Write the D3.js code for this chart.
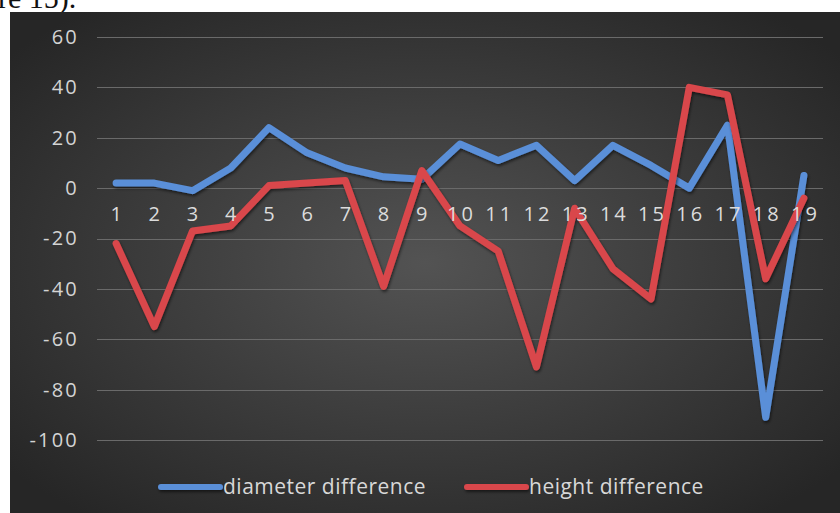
<!DOCTYPE html>
<html>
<head>
<meta charset="utf-8">
<script src="https://cdn.jsdelivr.net/npm/d3@7"></script>
<style>
  html, body { margin: 0; padding: 0; background: #fff; }
  svg { display: block; }
</style>
</head>
<body>
<svg id="chart" width="840" height="513"></svg>
<script>
// Sample numbers along the x axis
const categories = ["1","2","3","4","5","6","7","8","9","10","11","12","13","14","15","16","17","18","19"];
// Differences per sample
const diameterDiff = [2, 2, -1, 8, 24, 14, 8, 4.5, 3.5, 17.5, 11, 17, 3, 17, 9, 0, 25, -91, 5];
const heightDiff = [-22, -55, -17, -15, 1, 2, 3, -39, 7, -15, -25, -71, -8, -32, -44, 40, 37, -36, -4];
const yTicks = [60, 40, 20, 0, -20, -40, -60, -80, -100];
const seriesNames = ["diameter difference", "height difference"];
const seriesColors = ["#5a8fd8", "#d9474b"];

const svg = d3.select("#chart");
const W = 840, H = 513;

// Caption fragment above the chart panel
svg.append("text")
  .attr("x", -2).attr("y", 8)
  .attr("font-family", "Liberation Serif, Times New Roman, serif")
  .attr("font-size", 30)
  .attr("fill", "#111")
  .text("re 15).");

// Chart panel with a radial gradient background
const defs = svg.append("defs");
const grad = defs.append("radialGradient")
  .attr("id", "bg").attr("cx", "50%").attr("cy", "50%").attr("r", "65%");
grad.append("stop").attr("offset", "0%").attr("stop-color", "#535353");
grad.append("stop").attr("offset", "100%").attr("stop-color", "#262626");

const shadow = defs.append("filter").attr("id", "shadow")
  .attr("filterUnits", "userSpaceOnUse")
  .attr("x", 0).attr("y", 0).attr("width", W).attr("height", H);
shadow.append("feDropShadow").attr("dx", 1).attr("dy", 2).attr("stdDeviation", 1.5)
  .attr("flood-color", "#000").attr("flood-opacity", 0.55);

const panel = { x: 10, y: 12, w: W - 10, h: H - 12 };
svg.append("rect")
  .attr("x", panel.x).attr("y", panel.y)
  .attr("width", panel.w).attr("height", panel.h)
  .attr("fill", "url(#bg)");

const plot = { left: 97, right: 823, top: 37, bottom: 440 };

const x = d3.scaleBand().domain(categories).range([plot.left, plot.right]);
const y = d3.scaleLinear().domain([-100, 60]).range([plot.bottom, plot.top]);

// Horizontal gridlines
svg.append("g")
  .selectAll("line").data(yTicks).join("line")
  .attr("x1", plot.left).attr("x2", plot.right)
  .attr("y1", d => Math.round(y(d)) + 0.5).attr("y2", d => Math.round(y(d)) + 0.5)
  .attr("stroke", "#6a6a6a").attr("stroke-width", 1);

// Y axis labels (plain hyphen for negatives)
const yAxis = d3.axisLeft(y).tickValues(yTicks).tickSize(0).tickPadding(0)
  .tickFormat(d => String(d));
const yg = svg.append("g").attr("transform", `translate(${plot.left - 18},0)`).call(yAxis);
yg.select(".domain").remove();
yg.selectAll("text")
  .attr("font-family", "Open Sans, sans-serif")
  .attr("font-size", 20)
  .attr("letter-spacing", "2.2px")
  .attr("fill", "#d4d4d4");

// Series lines
const line = d3.line()
  .x((d, i) => x(categories[i]) + x.bandwidth() / 2)
  .y(d => y(d));

[diameterDiff, heightDiff].forEach((vals, k) => {
  svg.append("path")
    .datum(vals)
    .attr("d", line)
    .attr("fill", "none")
    .attr("stroke", seriesColors[k])
    .attr("stroke-width", 7)
    .attr("stroke-linejoin", "round")
    .attr("stroke-linecap", "round")
    .attr("filter", "url(#shadow)");
});

// Category labels just below the zero line, drawn above the lines
const xAxis = d3.axisBottom(x).tickSize(0).tickPadding(0);
const xg = svg.append("g").attr("transform", `translate(1.5,${y(0) + 19})`).call(xAxis);
xg.select(".domain").remove();
xg.selectAll("text")
  .attr("font-family", "Open Sans, sans-serif")
  .attr("font-size", 20)
  .attr("letter-spacing", "3px")
  .attr("fill", "#dcdcdc");

// Legend
const legendX = [161, 467];
const legendY = 487;
seriesNames.forEach((name, k) => {
  const g = svg.append("g");
  g.append("line")
    .attr("x1", legendX[k]).attr("x2", legendX[k] + 59)
    .attr("y1", legendY).attr("y2", legendY)
    .attr("stroke", seriesColors[k]).attr("stroke-width", 6)
    .attr("stroke-linecap", "round")
    .attr("filter", "url(#shadow)");
  g.append("text")
    .attr("x", legendX[k] + 62).attr("y", legendY + 7)
    .attr("font-family", "Open Sans, sans-serif")
    .attr("font-size", 21)
    .attr("letter-spacing", "0.5px")
    .attr("fill", "#d8d8d8")
    .text(name);
});
</script>
</body>
</html>
